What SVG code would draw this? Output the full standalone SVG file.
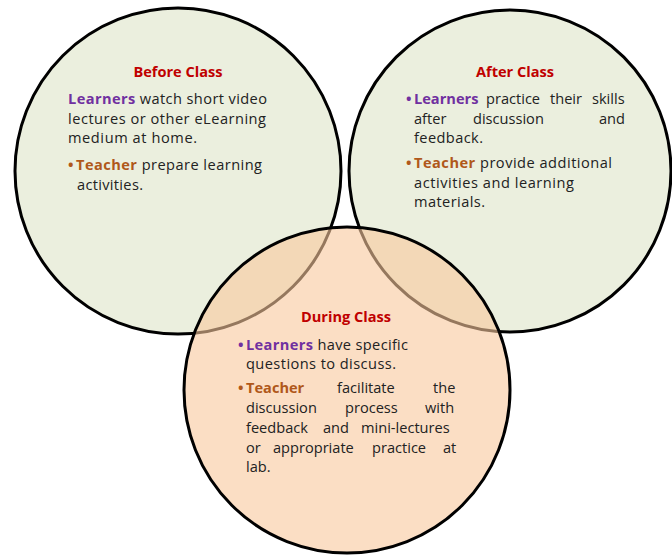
<svg xmlns="http://www.w3.org/2000/svg" width="672" height="556" viewBox="0 0 672 556">
<style>
.c{stroke:#000;stroke-width:3}
.top{fill:#EBEFDE}
.bot{fill:#F8C89D;fill-opacity:0.6}
text{font-family:"Open Sans","Liberation Sans",sans-serif;font-size:14.6px;fill:#222}
.t{font-weight:bold;fill:#C00000;text-anchor:middle}
.l{font-weight:bold;fill:#7030A0}
.h{font-weight:bold;fill:#B0581A}
</style>
<rect width="672" height="556" fill="#fff"/>
<g id="before">
<circle class="c top" cx="178" cy="171" r="163"/>
<text class="t" x="178" y="77">Before Class</text>
<text x="68" y="104" textLength="199" lengthAdjust="spacing"><tspan class="l">Learners</tspan> watch short video</text>
<text x="68" y="124" textLength="198" lengthAdjust="spacing">lectures or other eLearning</text>
<text x="68" y="143" textLength="129" lengthAdjust="spacing">medium at home.</text>
<text class="h" x="68" y="170">•</text>
<text x="76" y="170" textLength="186" lengthAdjust="spacing"><tspan class="h">Teacher</tspan> prepare learning</text>
<text x="77" y="190" textLength="66" lengthAdjust="spacing">activities.</text>
</g>
<g id="after">
<circle class="c top" cx="510" cy="171" r="161"/>
<text class="t" x="515" y="77">After Class</text>
<text class="l" x="406" y="104">•</text>
<text x="414" y="104"><tspan class="l">Learners</tspan><tspan x="486">practice</tspan><tspan x="550">their</tspan><tspan x="592">skills</tspan></text>
<text x="414" y="124">after<tspan x="473">discussion</tspan><tspan x="599">and</tspan></text>
<text x="414" y="143" textLength="69" lengthAdjust="spacing">feedback.</text>
<text class="h" x="406" y="168">•</text>
<text x="414" y="168" textLength="198" lengthAdjust="spacing"><tspan class="h">Teacher</tspan> provide additional</text>
<text x="414" y="188" textLength="160" lengthAdjust="spacing">activities and learning</text>
<text x="414" y="207" textLength="71" lengthAdjust="spacing">materials.</text>
</g>
<g id="during">
<circle class="c bot" cx="347" cy="390" r="163"/>
<text class="t" x="346" y="322">During Class</text>
<text class="l" x="238" y="350">•</text>
<text x="246" y="350" textLength="162" lengthAdjust="spacing"><tspan class="l">Learners</tspan> have specific</text>
<text x="246" y="369" textLength="150" lengthAdjust="spacing">questions to discuss.</text>
<text class="h" x="238" y="393">•</text>
<text x="246" y="393"><tspan class="h">Teacher</tspan><tspan x="337">facilitate</tspan><tspan x="433">the</tspan></text>
<text x="246" y="413">discussion<tspan x="345">process</tspan><tspan x="425">with</tspan></text>
<text x="246" y="433">feedback<tspan x="323">and</tspan><tspan x="361">mini-lectures</tspan></text>
<text x="246" y="453">or<tspan x="273">appropriate</tspan><tspan x="372">practice</tspan><tspan x="443">at</tspan></text>
<text x="246" y="472">lab.</text>
</g>
</svg>
